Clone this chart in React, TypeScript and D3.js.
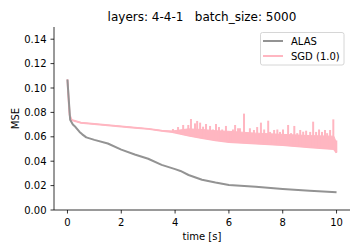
import React from "react";
import * as d3 from "d3";

const alasT = [0, 0.02, 0.1, 0.2, 0.3, 0.45, 0.55, 0.7, 1.0, 1.5, 2.0, 2.5, 3.0, 3.5, 4.0, 4.2, 4.5, 5.0, 5.5, 6.0, 7.0, 8.0, 9.0, 10.0];
const alasV = [0.107, 0.1, 0.074, 0.07, 0.068, 0.064, 0.062, 0.0595, 0.0575, 0.0545, 0.0495, 0.0455, 0.042, 0.037, 0.0335, 0.032, 0.0287, 0.0248, 0.0225, 0.0205, 0.019, 0.0172, 0.0158, 0.0145];

const sgdT = [0, 0.03, 0.08, 0.15, 0.5, 1.0, 1.5, 2.0, 2.5, 3.0, 3.5, 3.9, 4.5, 5.0, 5.5, 6.0, 7.0, 8.0, 9.0, 9.9, 10.0];
const sgdLow = [0.107, 0.095, 0.078, 0.0738, 0.0715, 0.0705, 0.0695, 0.0685, 0.0675, 0.0665, 0.065, 0.064, 0.061, 0.059, 0.0572, 0.0558, 0.0545, 0.0532, 0.0515, 0.05, 0.047];
const sgdBandTop = [0.107, 0.095, 0.078, 0.0738, 0.0715, 0.0705, 0.0695, 0.0685, 0.0675, 0.0665, 0.065, 0.0648, 0.0665, 0.066, 0.065, 0.0645, 0.063, 0.062, 0.061, 0.0605, 0.055];

const spikeT = [3.92, 4.11, 4.3, 4.49, 4.59, 4.74, 4.82, 4.93, 5.04, 5.15, 5.3, 5.41, 5.52, 5.63, 5.75, 5.89, 6.0, 6.15, 6.23, 6.34, 6.41, 6.56, 6.67, 6.78, 6.93, 7.05, 7.19, 7.31, 7.46, 7.53, 7.68, 7.8, 7.9, 8.01, 8.2, 8.31, 8.43, 8.54, 8.65, 8.76, 8.87, 9.02, 9.13, 9.24, 9.35, 9.46, 9.57, 9.65, 9.76, 9.88, 9.99];
const spikeV = [0.0664, 0.068, 0.0697, 0.0697, 0.0746, 0.071, 0.073, 0.0716, 0.0683, 0.0705, 0.0689, 0.066, 0.0705, 0.068, 0.066, 0.0689, 0.064, 0.066, 0.0697, 0.067, 0.067, 0.079, 0.063, 0.067, 0.0656, 0.068, 0.0716, 0.066, 0.0732, 0.064, 0.0656, 0.066, 0.064, 0.066, 0.0697, 0.063, 0.0689, 0.063, 0.0656, 0.0642, 0.065, 0.064, 0.0724, 0.064, 0.066, 0.064, 0.0656, 0.063, 0.0656, 0.0743, 0.057];

const xTicks = [0, 2, 4, 6, 8, 10];
const yTicks = [0, 0.02, 0.04, 0.06, 0.08, 0.1, 0.12, 0.14];
const seriesNames = ["ALAS", "SGD (1.0)"];
const titleText = "layers: 4-4-1   batch_size: 5000";

const GREY = "#939393";
const PINK = "#ffb6c1";
const FONT = "DejaVu Sans, sans-serif";

export default function App() {
  const x = d3.scaleLinear().domain([-0.5, 10.5]).range([54, 350]);
  const y = d3.scaleLinear().domain([0, 0.15]).range([210, 27]);

  const alasLine = d3
    .line<number>()
    .x((_, i) => x(alasT[i]))
    .y((d) => y(d))(alasV) as string;

  const sgdArea = d3
    .area<number>()
    .x((_, i) => x(sgdT[i]))
    .y0((d) => y(d))
    .y1((_, i) => y(sgdBandTop[i]))(sgdLow) as string;
  const sgdLine = d3
    .line<number>()
    .x((_, i) => x(sgdT[i]))
    .y((d) => y(d))(sgdLow) as string;
  const lowAt = d3.scaleLinear().domain(sgdT).range(sgdLow);

  return (
    <div style={{ position: "fixed", left: 0, top: 0 }}>
      <svg width={360} height={252} style={{ display: "block", fontFamily: FONT }}>
        <rect width={360} height={252} fill="#fff" />
        <text x={202} y={21} textAnchor="middle" fontSize={12} fill="#000" style={{ whiteSpace: "pre" }}>
          {titleText}
        </text>
        {/* SGD */}
        <path d={sgdArea} fill={PINK} stroke={PINK} strokeWidth={1} />
        <path d={sgdLine} fill="none" stroke={PINK} strokeWidth={2} />
        {spikeT.map((t, i) => (
          <line
            key={i}
            x1={x(t)}
            x2={x(t)}
            y1={y(lowAt(t))}
            y2={y(spikeV[i])}
            stroke={PINK}
            strokeWidth={2}
          />
        ))}
        {/* ALAS */}
        <path d={alasLine} fill="none" stroke={GREY} strokeWidth={2} strokeLinejoin="round" />
        {/* axes */}
        <line x1={54} x2={54} y1={27} y2={210} stroke="#000" strokeWidth={0.8} />
        <line x1={54} x2={350} y1={210} y2={210} stroke="#000" strokeWidth={0.8} />
        {yTicks.map((v) => (
          <g key={v}>
            <line x1={50.5} x2={54} y1={y(v)} y2={y(v)} stroke="#000" strokeWidth={0.8} />
            <text x={46.5} y={y(v)} dy="0.35em" textAnchor="end" fontSize={10} fill="#000">
              {v.toFixed(2)}
            </text>
          </g>
        ))}
        {xTicks.map((v) => (
          <g key={v}>
            <line x1={x(v)} x2={x(v)} y1={210} y2={213.5} stroke="#000" strokeWidth={0.8} />
            <text x={x(v)} y={225.5} textAnchor="middle" fontSize={10} fill="#000">
              {v}
            </text>
          </g>
        ))}
        <text x={202} y={239.5} textAnchor="middle" fontSize={10} fill="#000">
          time [s]
        </text>
        <text transform="translate(18.5,118.5) rotate(-90)" textAnchor="middle" fontSize={10} fill="#000">
          MSE
        </text>
        {/* legend */}
        <rect x={260.5} y={32.5} width={83.5} height={32.5} rx={2} fill="#fff" fillOpacity={0.8} stroke="#cccccc" strokeWidth={0.8} />
        {seriesNames.map((name, i) => (
          <g key={name}>
            <line x1={263} x2={283} y1={41 + i * 15} y2={41 + i * 15} stroke={i === 0 ? GREY : PINK} strokeWidth={2} />
            <text x={291} y={41 + i * 15} dy="0.35em" fontSize={10} fill="#000">
              {name}
            </text>
          </g>
        ))}
      </svg>
    </div>
  );
}
